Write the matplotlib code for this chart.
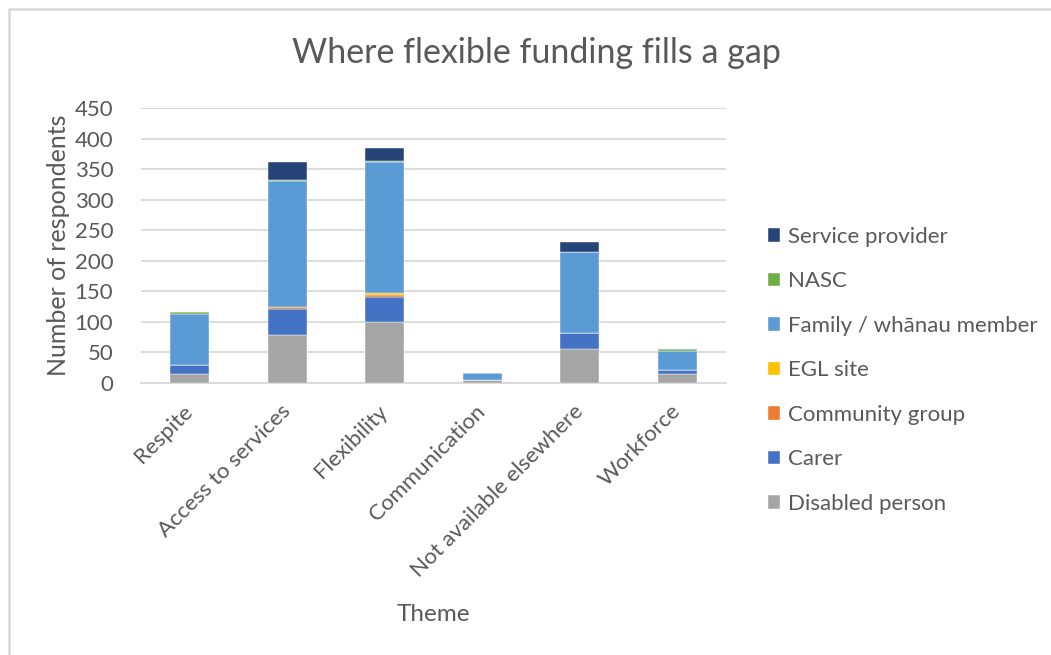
import matplotlib
matplotlib.use("Agg")
import matplotlib.pyplot as plt
from matplotlib.patches import Rectangle
from matplotlib.transforms import ScaledTranslation
import numpy as np

plt.rcParams['font.family'] = ['Lato', 'DejaVu Sans']

themes = ["Respite", "Access to services", "Flexibility", "Communication",
          "Not available elsewhere", "Workforce"]

disabled_person = [15, 79, 100, 5, 56, 15]
carer = [14, 42, 40, 0, 25, 6]
community_group = [0, 4, 4, 0, 0, 0]
egl_site = [0, 0, 3, 0, 0, 0]
family_whanau = [84, 205, 215, 11, 134, 32]
nasc = [3, 2, 2, 0, 0, 3]
service_provider = [1, 29, 20, 0, 15, 0]

series = [
    ("Disabled person", disabled_person, "#A5A5A5"),
    ("Carer", carer, "#4472C4"),
    ("Community group", community_group, "#ED7D31"),
    ("EGL site", egl_site, "#FFC000"),
    ("Family / wh\u0101nau member", family_whanau, "#5B9BD5"),
    ("NASC", nasc, "#70AD47"),
    ("Service provider", service_provider, "#264478"),
]

text_color = "#595959"
grid_color = "#D9D9D9"

fig = plt.figure(figsize=(10.51, 6.55), dpi=100)
W, H = 1051, 655
ax = fig.add_axes([141 / W, 1 - 383 / H, (726 - 141) / W, (383 - 108) / H])

x = np.arange(len(themes))
bottom = np.zeros(len(themes))
handles = []
for name, vals, color in series:
    vals = np.array(vals, dtype=float)
    b = ax.bar(x, vals, 0.4, bottom=bottom, color=color, label=name,
               edgecolor="white", linewidth=0.3, zorder=3)
    handles.append(b)
    bottom += vals

ax.set_xlim(-0.5, len(themes) - 0.5)
ax.set_ylim(0, 450)
ax.set_yticks(np.arange(0, 451, 50))
ax.yaxis.grid(True, color=grid_color, linewidth=1.3, zorder=0)
ax.set_axisbelow(True)
for s in ["top", "right", "left"]:
    ax.spines[s].set_visible(False)
ax.spines["bottom"].set_color(grid_color)
ax.spines["bottom"].set_linewidth(1.3)
ax.tick_params(axis="both", length=0, colors=text_color, labelsize=16)
ax.tick_params(axis="y", pad=20)
ax.set_xticks(x)
ax.set_xticklabels(themes, rotation=45, ha="right", va="top",
                   rotation_mode="anchor")
ax.tick_params(axis="x", pad=13)
shift = ScaledTranslation(-7 / 100, 0, fig.dpi_scale_trans)
for lbl in ax.get_xticklabels():
    lbl.set_transform(lbl.get_transform() + shift)

ax.set_ylabel("Number of respondents", fontsize=18, color=text_color, labelpad=3)
ax.set_xlabel("Theme", fontsize=17.5, color=text_color, labelpad=17)

fig.text(537 / W, 1 - 53 / H, "Where flexible funding fills a gap",
         fontsize=24.5, color=text_color, ha="center", va="center")

leg = fig.legend(handles[::-1], [s[0] for s in series][::-1],
                 loc="upper left", bbox_to_anchor=(748 / W, 1 - 207 / H),
                 frameon=False, fontsize=16, labelcolor=text_color,
                 handlelength=0.55, handleheight=0.55, handletextpad=0.35,
                 labelspacing=1.1)

# chart area frame
fig.patches.append(Rectangle((9 / W, -0.1), 1.2, 1 - 9 / H + 0.1,
                             transform=fig.transFigure, fill=False,
                             edgecolor=grid_color, linewidth=1.8))

fig.savefig("out.png", dpi=100, facecolor="white")
